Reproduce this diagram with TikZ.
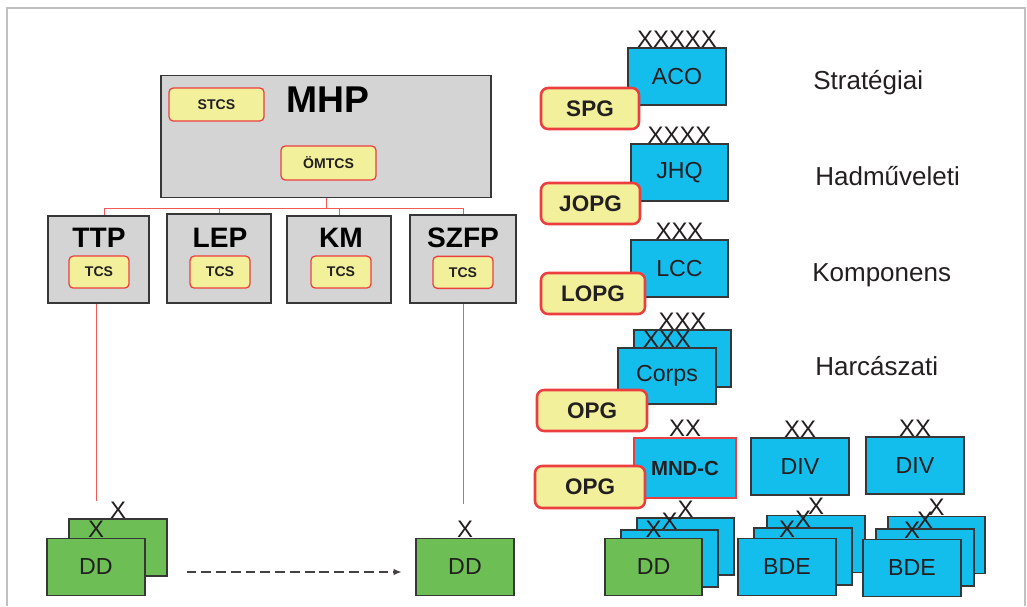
\documentclass[tikz,border=0pt]{standalone}
\usepackage{fontspec}
\setmainfont{Liberation Sans}
\usepackage{xcolor}
\usepackage{tikz}
\usetikzlibrary{arrows.meta,positioning}
\definecolor{unitblue}{RGB}{20,190,236}
\definecolor{ddgreen}{RGB}{108,190,85}
\definecolor{cellyellow}{RGB}{242,240,155}
\definecolor{cellred}{RGB}{236,62,62}
\definecolor{hqgray}{RGB}{211,212,211}
\definecolor{boxline}{RGB}{55,55,55}
\definecolor{framegray}{RGB}{192,192,192}
\definecolor{linkred}{RGB}{242,90,90}
\definecolor{textdark}{RGB}{35,31,32}
\newcommand{\pxu}{0.025cm}
\newcommand{\fsz}[1]{\fontsize{#1}{#1}\selectfont}

\begin{document}
\begin{tikzpicture}[
  x=0.025cm, y=-0.025cm,
  hqbox/.style={rectangle, draw=boxline, fill=hqgray, line width=0.9pt, inner sep=0pt},
  cellbox/.style={rectangle, draw=cellred, fill=cellyellow, rounded corners=3pt,
                  line width=0.9pt, minimum width=60*\pxu, minimum height=32*\pxu,
                  inner sep=0pt, text=textdark, font=\fsz{10}\bfseries},
  pgbox/.style={rectangle, draw=cellred, fill=cellyellow, rounded corners=5pt,
                line width=1.8pt, minimum height=41*\pxu, inner sep=0pt,
                text=textdark, font=\fsz{16}\bfseries},
  unitbox/.style={rectangle, draw=boxline, fill=unitblue, line width=0.8pt,
                  minimum width=98*\pxu, minimum height=57*\pxu, inner sep=0pt,
                  text=textdark, font=\fsz{16.5}},
  ddbox/.style={unitbox, fill=ddgreen},
  echelon/.style={anchor=base, inner sep=0pt, text=textdark, font=\fsz{17}},
  cmdtitle/.style={inner sep=0pt, text=black, font=\fsz{20}\bfseries},
  tier/.style={anchor=base west, inner sep=0pt, text=textdark, font=\fsz{18.5}},
  redlink/.style={draw=linkred, line width=0.7pt},
  >=Latex
]
  \useasboundingbox (0,0) rectangle (1027,606);

  % Frame
  \draw[framegray, line width=1.1pt] (7,606) -- (7,8) -- (1025,8) -- (1025,606);

  % MHP
  \node[hqbox, minimum width=330*\pxu, minimum height=122*\pxu] (mhp) at (326,136.5) {};
  \node[cmdtitle, font=\fsz{26.5}\bfseries] (mhpt) at (328,100) {MHP};
  \node[cellbox, minimum width=95*\pxu, minimum height=33*\pxu] (stcs) at (216.5,104.5) {STCS};
  \node[cellbox, minimum width=95*\pxu, minimum height=34*\pxu] (omtcs) at (328.5,163) {ÖMTCS};

  % Commands
  \node[hqbox, minimum width=101*\pxu, minimum height=87*\pxu] (ttp) at (98.5,259.5) {};
  \node[hqbox, minimum width=104*\pxu, minimum height=89*\pxu] (lep) at (219,258.5) {};
  \node[hqbox, minimum width=104*\pxu, minimum height=87*\pxu] (km) at (339,259.5) {};
  \node[hqbox, minimum width=106*\pxu, minimum height=88*\pxu] (szfp) at (463,259) {};
  \node[cmdtitle] (ttpt) at (99,237.5) {TTP};
  \node[cmdtitle] (lept) at (220,237.5) {LEP};
  \node[cmdtitle] (kmt) at (341,237.5) {KM};
  \node[cmdtitle] (szfpt) at (463,237.5) {SZFP};
  \node[cellbox, below=0.2cm of ttpt] (ttptcs) {TCS};
  \node[cellbox, below=0.2cm of lept] (leptcs) {TCS};
  \node[cellbox, below=0.2cm of kmt] (kmtcs) {TCS};
  \node[cellbox, below=0.2cm of szfpt] (szfptcs) {TCS};

  % Tree
  \draw[redlink] (mhp.south) -- ++(0,10) -| ([xshift=0.16cm]ttp.north);
  \draw[redlink] (mhp.south) ++(0,10) -| (lep.north);
  \draw[redlink] (mhp.south) ++(0,10) -| (km.north);
  \draw[redlink] (mhp.south) ++(0,10) -| (szfp.north);
  \draw[redlink] ([xshift=-0.06cm]ttp.south) -- ++(0,197);
  \draw[redlink] (szfp.south) -- ++(0,200);

  % DD left
  \node[ddbox] (ddb) at (118,547.5) {};
  \node[echelon] (ddbx) at (ddb.north) {X};
  \node[ddbox] (ddf) at (96,567) {DD};
  \node[echelon] (ddfx) at (ddf.north) {X};
  \node[ddbox] (ddr) at (465,567) {DD};
  \node[echelon] (ddrx) at (ddr.north) {X};
  \draw[->, textdark!85, line width=0.75pt, dash pattern=on 7pt off 3.5pt,
        shorten <=1.025cm, shorten >=0.35cm,
        arrows={-Latex[length=5.5pt,width=4.5pt]}]
    ([yshift=-0.125cm]ddf.east) -- ([yshift=-0.125cm]ddr.west);

  % Echelons
  \node[unitbox] (aco) at (677,76.5) {ACO};
  \node[echelon] (acox) at (aco.north) {XXXXX};
  \node[pgbox, minimum width=98*\pxu] (spg) at (590,108.5) {SPG};
  \node[unitbox, minimum width=97*\pxu] (jhq) at (679.5,172.5) {JHQ};
  \node[echelon] (jhqx) at (jhq.north) {XXXX};
  \node[pgbox, minimum width=99*\pxu] (jopg) at (590.5,203.5) {JOPG};
  \node[unitbox, minimum width=97*\pxu] (lcc) at (679.5,268.5) {LCC};
  \node[echelon] (lccx) at (lcc.north) {XXX};
  \node[pgbox, minimum width=104*\pxu] (lopg) at (593,293.5) {LOPG};
  \node[unitbox, minimum width=97*\pxu] (corpsb) at (682.5,358.5) {};
  \node[echelon] (corpsbx) at (corpsb.north) {XXX};
  \node[unitbox, minimum height=56*\pxu] (corps) at (667,376) {Corps};
  \node[echelon] (corpsx) at (corps.north) {XXX};
  \node[pgbox, minimum width=110*\pxu] (opga) at (592,410.5) {OPG};
  \node[unitbox, draw=cellred, line width=1.8pt, minimum width=102*\pxu,
        minimum height=60*\pxu, font=\fsz{14.5}\bfseries] (mndc) at (685,468) {MND-C};
  \node[echelon] (mndcx) at (mndc.north) {XX};
  \node[pgbox, minimum width=110*\pxu, minimum height=42*\pxu] (opgb) at (590,487) {OPG};
  \node[unitbox] (diva) at (800,466.5) {DIV};
  \node[echelon] (divax) at (diva.north) {XX};
  \node[unitbox] (divb) at (915,465.5) {DIV};
  \node[echelon] (divbx) at (divb.north) {XX};

  % Brigades
  \node[unitbox, minimum width=97*\pxu] (ddsa) at (685.5,546.5) {};
  \node[echelon] (ddsax) at (ddsa.north) {X};
  \node[unitbox, minimum width=97*\pxu] (ddsb) at (669.5,558.5) {};
  \node[echelon] (ddsbx) at (ddsb.north) {X};
  \node[ddbox, minimum width=97*\pxu] (dds) at (653.5,567) {DD};
  \node[echelon] (ddsx) at (dds.north) {X};
  \node[unitbox] (bdeaa) at (816,544) {};
  \node[echelon] (bdeaax) at (bdeaa.north) {X};
  \node[unitbox] (bdeab) at (803,556.5) {};
  \node[echelon] (bdeabx) at (bdeab.north) {X};
  \node[unitbox] (bdea) at (787,567) {BDE};
  \node[echelon] (bdeax) at (bdea.north) {X};
  \node[unitbox, minimum width=97*\pxu] (bdeba) at (936.5,545) {};
  \node[echelon] (bdebax) at (bdeba.north) {X};
  \node[unitbox] (bdebb) at (925,557.5) {};
  \node[echelon] (bdebbx) at (bdebb.north) {X};
  \node[unitbox] (bdeb) at (912,568) {BDE};
  \node[echelon] (bdebx) at (bdeb.north) {X};

  % Levels
  \node[tier] (strat) at (813,89) {Stratégiai};
  \node[tier] (hadm) at (815,185) {Hadműveleti};
  \node[tier] (komp) at (812,281) {Komponens};
  \node[tier] (harc) at (815,375) {Harcászati};
\end{tikzpicture}
\end{document}
